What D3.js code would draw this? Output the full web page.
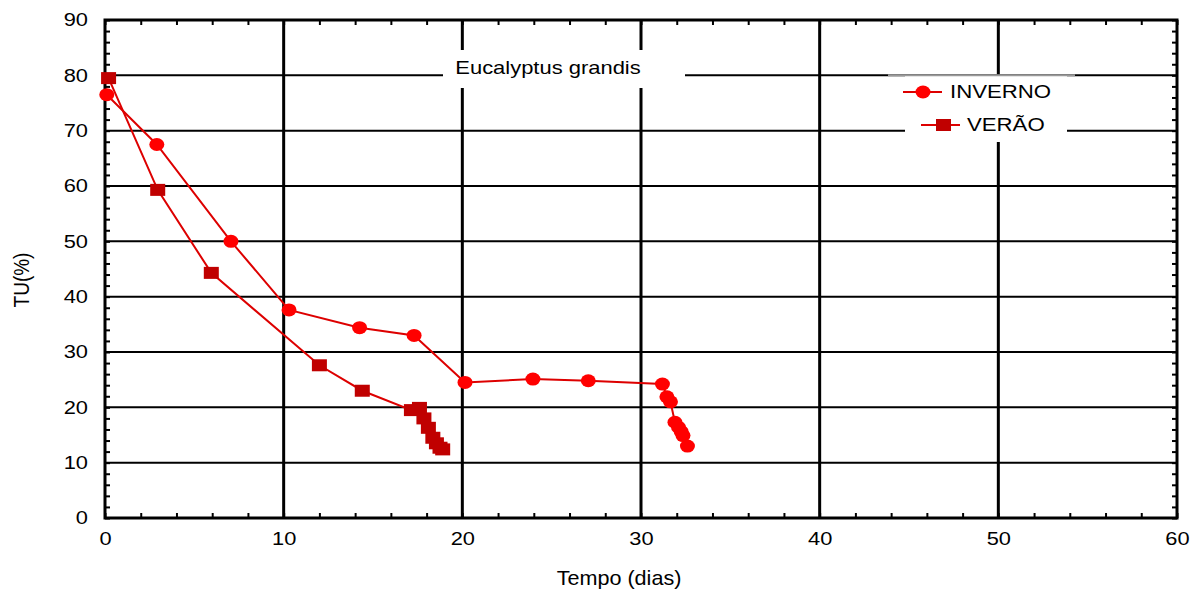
<!DOCTYPE html>
<html>
<head>
  <meta charset="UTF-8">
  <title>Eucalyptus grandis</title>
  <style>
    body { margin: 0; background: #fff; }
    text { font-family: "Liberation Sans", Arial, sans-serif; fill: #000; }
  </style>
</head>
<body>
  <script src="https://cdn.jsdelivr.net/npm/d3@7"></script>
  <script type="text/javascript">
  // tempo (dias) / TU(%)
  let invernoX = [0.1, 2.9, 7.05, 10.3, 14.25, 17.3, 20.15, 23.95, 27.05, 31.2, 31.45, 31.65, 31.9, 32.1, 32.25, 32.35, 32.6];
  let invernoY = [76.5, 67.5, 50, 37.6, 34.4, 33, 24.5, 25.1, 24.8, 24.2, 21.9, 21.0, 17.3, 16.4, 15.6, 14.9, 13.0];
  let veraoX = [0.2, 2.95, 5.95, 12.0, 14.4, 17.15, 17.6, 17.85, 18.1, 18.35, 18.55, 18.75, 18.9];
  let veraoY = [79.5, 59.3, 44.3, 27.6, 23.0, 19.5, 19.9, 18.0, 16.3, 14.5, 13.5, 12.7, 12.4];
  let xTicks = [0, 10, 20, 30, 40, 50, 60];
  let yTicks = [0, 10, 20, 30, 40, 50, 60, 70, 80, 90];
  let series = ["INVERNO", "VERÃO"];
  let titulo = "Eucalyptus grandis";

  var width = 1197, height = 590;
  var mLeft = 105, mRight = 1177, mTop = 20, mBottom = 518;

  var x = d3.scaleLinear().domain([0, 60]).range([mLeft, mRight]);
  var y = d3.scaleLinear().domain([0, 90]).range([mBottom, mTop]);

  var svg = d3.select("body").append("svg")
    .attr("width", width)
    .attr("height", height);

  // grid
  svg.append("g").selectAll("line")
    .data(yTicks.slice(1, -1))
    .enter().append("line")
    .attr("x1", mLeft).attr("x2", mRight)
    .attr("y1", d => y(d)).attr("y2", d => y(d))
    .attr("stroke", "#000").attr("stroke-width", 2);
  svg.append("g").selectAll("line")
    .data(xTicks.slice(1, -1))
    .enter().append("line")
    .attr("y1", mTop).attr("y2", mBottom)
    .attr("x1", d => x(d)).attr("x2", d => x(d))
    .attr("stroke", "#000").attr("stroke-width", 3);

  // white boxes behind title and legend
  svg.append("rect").attr("x", 443).attr("y", 50).attr("width", 242).attr("height", 38).attr("fill", "#fff");
  svg.append("rect").attr("x", 905).attr("y", 76).attr("width", 162).attr("height", 66).attr("fill", "#fff");
  svg.append("line").attr("x1", 888).attr("x2", 1075).attr("y1", y(80)).attr("y2", y(80))
    .attr("stroke", "#999").attr("stroke-width", 2);

  // minor inward ticks on all sides
  var minorX = d3.range(0, 61, 2), minorY = d3.range(0, 91, 2);
  svg.append("g").attr("transform", "translate(0," + mBottom + ")")
    .call(d3.axisBottom(x).tickValues(minorX).tickSize(-5).tickFormat(""));
  svg.append("g").attr("transform", "translate(0," + mTop + ")")
    .call(d3.axisTop(x).tickValues(minorX).tickSize(-5).tickFormat(""));
  svg.append("g").attr("transform", "translate(" + mLeft + ",0)")
    .call(d3.axisLeft(y).tickValues(minorY).tickSize(-5).tickFormat(""));
  svg.append("g").attr("transform", "translate(" + mRight + ",0)")
    .call(d3.axisRight(y).tickValues(minorY).tickSize(-5).tickFormat(""));
  svg.selectAll(".domain").remove();
  svg.selectAll(".tick line").attr("stroke", "#000").attr("stroke-width", 2);

  svg.append("rect")
    .attr("x", mLeft).attr("y", mTop)
    .attr("width", mRight - mLeft).attr("height", mBottom - mTop)
    .attr("fill", "none").attr("stroke", "#000").attr("stroke-width", 3);

  // tick labels
  var xa = svg.append("g").attr("transform", "translate(0," + mBottom + ")")
    .call(d3.axisBottom(x).tickValues(xTicks).tickSize(0).tickPadding(14));
  var ya = svg.append("g").attr("transform", "translate(" + mLeft + ",0)")
    .call(d3.axisLeft(y).tickValues(yTicks).tickSize(0).tickPadding(17));
  [xa, ya].forEach(function (a) {
    a.select(".domain").remove();
    a.selectAll("text")
      .style("font-family", '"Liberation Sans", Arial, sans-serif')
      .style("font-size", "18.5px").attr("fill", "#000");
  });
  xa.selectAll("text").attr("transform", "scale(1.18,1)");
  ya.selectAll("text").attr("transform", "scale(1.18,1)").attr("x", -17 / 1.18);

  // axis titles
  svg.append("text")
    .attr("transform", "translate(619,585) scale(1.08,1)")
    .attr("text-anchor", "middle").style("font-size", "20px")
    .text("Tempo (dias)");
  svg.append("text")
    .attr("transform", "translate(29,280) scale(1.18,1) rotate(-90)")
    .attr("text-anchor", "middle").style("font-size", "19px")
    .text("TU(%)");
  svg.append("text")
    .attr("transform", "translate(548,74) scale(1.22,1)")
    .attr("text-anchor", "middle").style("font-size", "18px")
    .text(titulo);

  // data
  var line = d3.line().x(d => x(d[0])).y(d => y(d[1]));
  var inverno = invernoX.map((v, i) => [v, invernoY[i]]);
  var verao = veraoX.map((v, i) => [v, veraoY[i]]);

  svg.append("path").datum(verao).attr("d", line)
    .attr("fill", "none").attr("stroke", "#dd0000").attr("stroke-width", 2);
  svg.append("path").datum(inverno).attr("d", line)
    .attr("fill", "none").attr("stroke", "#dd0000").attr("stroke-width", 2);

  svg.append("g").selectAll("rect")
    .data(verao)
    .enter().append("rect")
    .attr("x", d => x(d[0]) - 7.5).attr("y", d => y(d[1]) - 6)
    .attr("width", 15).attr("height", 12)
    .attr("fill", "#c00000");
  svg.append("g").selectAll("ellipse")
    .data(inverno)
    .enter().append("ellipse")
    .attr("cx", d => x(d[0])).attr("cy", d => y(d[1]))
    .attr("rx", 7.5).attr("ry", 6.5)
    .attr("fill", "#ff0000");

  // legend
  var lg = svg.append("g");
  lg.append("line").attr("x1", 903).attr("x2", 942).attr("y1", 92).attr("y2", 92)
    .attr("stroke", "#dd0000").attr("stroke-width", 2);
  lg.append("ellipse").attr("cx", 923).attr("cy", 92).attr("rx", 7.5).attr("ry", 6.5).attr("fill", "#ff0000");
  lg.append("text").attr("transform", "translate(950,98) scale(1.2,1)")
    .style("font-size", "18.5px").text(series[0]);
  lg.append("line").attr("x1", 921).attr("x2", 960).attr("y1", 125).attr("y2", 125)
    .attr("stroke", "#dd0000").attr("stroke-width", 2);
  lg.append("rect").attr("x", 936).attr("y", 119).attr("width", 15).attr("height", 12).attr("fill", "#c00000");
  lg.append("text").attr("transform", "translate(967,131) scale(1.2,1)")
    .style("font-size", "18.5px").text(series[1]);
  </script>
</body>
</html>
